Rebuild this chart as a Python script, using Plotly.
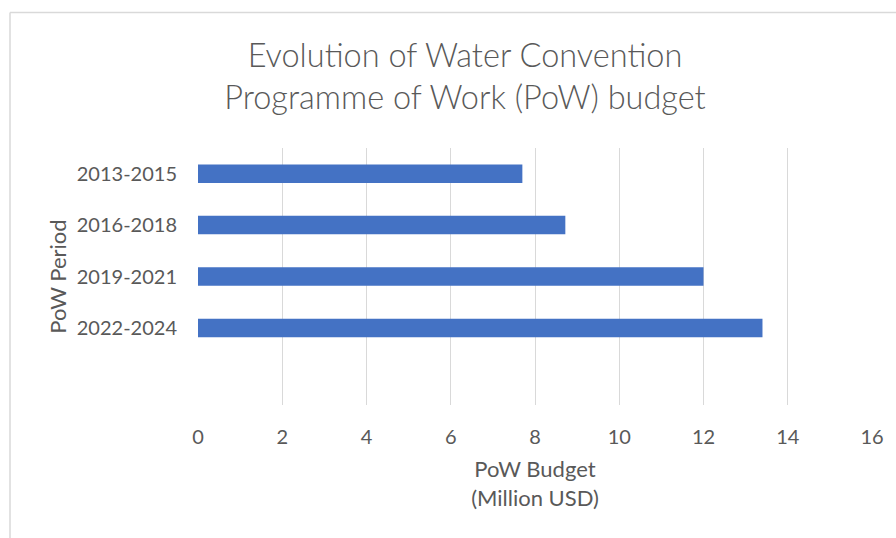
import plotly.graph_objects as go

periods = ["2013-2015", "2016-2018", "2019-2021", "2022-2024"]
budget = [7.7, 8.72, 12.0, 13.4]
x_ticks = [0, 2, 4, 6, 8, 10, 12, 14, 16]

FONT = "Lato, 'Open Sans', sans-serif"
GREY = "#595959"

fig = go.Figure(go.Bar(
    y=periods, x=budget, orientation="h",
    marker=dict(color="#4472C4", line=dict(width=0)),
    width=0.36,
))

fig.update_layout(
    width=896, height=538,
    margin=dict(l=198, r=24, t=148, b=133),
    paper_bgcolor="white", plot_bgcolor="white",
    showlegend=False,
    font=dict(family=FONT, color=GREY, size=20),
    title=dict(
        text="Evolution of Water Convention<br>Programme of Work (PoW) budget",
        x=465 / 896, xanchor="center", y=1 - 67 / 538, yanchor="middle",
        xref="container", yref="container",
        font=dict(family=FONT, size=32.5, color=GREY, weight=300),
    ),
    xaxis=dict(
        range=[0, 16], tickvals=x_ticks, ticktext=[str(v) for v in x_ticks],
        showgrid=True, gridcolor="#d9d9d9", gridwidth=1,
        zeroline=False, showline=False,
        ticks="outside", ticklen=14, tickcolor="rgba(0,0,0,0)",
        tickfont=dict(size=20, color=GREY),
        title=dict(text="PoW Budget<br>(Million USD)", standoff=14,
                   font=dict(size=22, color=GREY)),
    ),
    yaxis=dict(
        type="category", categoryorder="array", categoryarray=periods,
        range=[4.5, -0.5],
        showgrid=False, zeroline=False, showline=False,
        ticks="outside", ticklen=16, tickcolor="rgba(0,0,0,0)",
        tickfont=dict(size=20, color=GREY),
        title=dict(text="PoW Period", standoff=4, font=dict(size=22, color=GREY)),
    ),
    shapes=[
        dict(type="line", xref="paper", yref="paper",
             x0=(10 - 198) / 674, x1=(10 - 198) / 674,
             y0=1 + (148 - 12.5) / 257, y1=-1,
             line=dict(color="#d9d9d9", width=1.5)),
        dict(type="line", xref="paper", yref="paper",
             x0=(10 - 198) / 674, x1=1.2,
             y0=1 + (148 - 12.5) / 257, y1=1 + (148 - 12.5) / 257,
             line=dict(color="#d9d9d9", width=1.5)),
    ],
)

fig.write_html("out.html", config={"displayModeBar": False},
               post_script="document.body.style.margin='0';")
